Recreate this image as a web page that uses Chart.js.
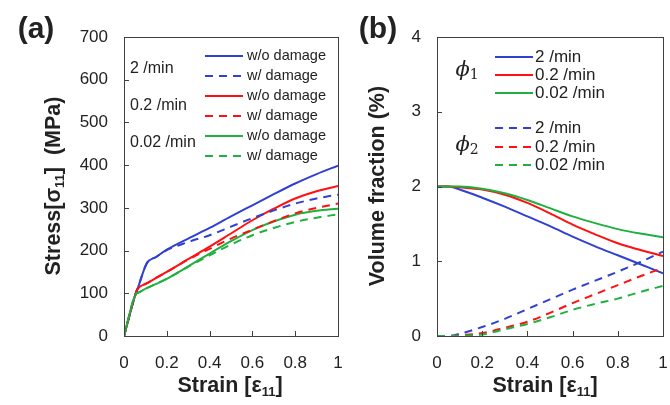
<!DOCTYPE html>
<html>
<head>
<meta charset="utf-8">
<script src="https://cdn.jsdelivr.net/npm/chart.js@4.4.1/dist/chart.umd.min.js"></script>
<style>
  html, body { margin: 0; padding: 0; background: #fff; }
  #wrap { position: relative; width: 670px; height: 405px; }
  #boxA { position: absolute; left: 0; top: 0; width: 345px; height: 405px; }
  #boxB { position: absolute; left: 340px; top: 0; width: 330px; height: 405px; }
</style>
</head>
<body>
<div id="wrap">
  <div id="boxA"><canvas id="chartA"></canvas></div>
  <div id="boxB"><canvas id="chartB"></canvas></div>
</div>
<script>
// (a) stress-strain
const strainA = [0, 0.055, 0.065, 0.106, 0.15, 0.2, 0.3, 0.4, 0.5, 0.6, 0.7, 0.8, 0.9, 1.0];
const blueSolid  = [0, 100, 113, 170, 185, 202, 228, 253, 280, 306, 332, 357, 379, 399];
const blueDash   = [0, 100, 113, 170, 185, 201, 220, 236, 256, 276, 294, 310, 322, 331];
const redSolid   = [0, 100, 111, 123, 136, 150, 180, 209, 240, 271, 298, 322, 339, 351];
const redDash    = [0, 100, 111, 123, 136, 150, 179, 204, 228, 249, 269, 287, 300, 310];
const greenSolid = [0, 98, 101, 112, 122, 134, 163, 193, 222, 248, 268, 284, 293, 298];
const greenDash  = [0, 98, 101, 112, 122, 134, 162, 189, 214, 236, 253, 267, 277, 285];

// (b) volume fractions
const strainB = [0, 0.05, 0.1, 0.2, 0.3, 0.4, 0.5, 0.6, 0.7, 0.8, 0.9, 1.0];
const phi1Blue  = [2.0, 2.0, 1.96, 1.85, 1.73, 1.60, 1.47, 1.33, 1.20, 1.08, 0.96, 0.84];
const phi1Red   = [2.0, 2.0, 1.99, 1.96, 1.89, 1.78, 1.64, 1.49, 1.36, 1.24, 1.15, 1.07];
const phi1Green = [2.0, 2.0, 2.0, 1.97, 1.91, 1.82, 1.71, 1.60, 1.51, 1.43, 1.37, 1.32];
const phi2Blue  = [0, 0, 0.03, 0.12, 0.23, 0.36, 0.49, 0.62, 0.74, 0.86, 0.99, 1.13];
const phi2Red   = [0, 0, 0.01, 0.04, 0.11, 0.19, 0.31, 0.44, 0.56, 0.68, 0.80, 0.91];
const phi2Green = [0, 0, 0.005, 0.02, 0.09, 0.16, 0.25, 0.35, 0.43, 0.50, 0.59, 0.67];

const rateLabels = ['2 /min', '0.2 /min', '0.02 /min'];

const BLUE = '#3040d0', RED = '#ff1010', GREEN = '#20b040';
const DASH = [8, 6];
const TXT = '#222';
const SANS = '"Liberation Sans", Arial, sans-serif';

function pts(xs, ys) { return xs.map((x, i) => ({ x: x, y: ys[i] })); }

function ds(xs, ys, color, dashed) {
    return {
        data: pts(xs, ys),
        borderColor: color,
        borderWidth: 2,
        borderDash: dashed ? DASH : [],
        pointRadius: 0,
        cubicInterpolationMode: 'monotone',
        fill: false
    };
}

// draw text made of pieces (for subscripts), centred on cx,cy
function drawParts(ctx, parts, cx, cy, rot) {
    ctx.save();
    ctx.translate(cx, cy);
    if (rot) ctx.rotate(rot);
    let w = 0;
    parts.forEach(p => { ctx.font = p.font; p.w = ctx.measureText(p.t).width; w += p.w; });
    let x = -w / 2;
    ctx.fillStyle = TXT;
    ctx.textBaseline = 'middle';
    ctx.textAlign = 'left';
    parts.forEach(p => {
        ctx.font = p.font;
        ctx.fillText(p.t, x, p.dy || 0);
        x += p.w;
    });
    ctx.restore();
}

function legendLine(ctx, x1, x2, y, color, dashed) {
    ctx.save();
    ctx.strokeStyle = color;
    ctx.lineWidth = 2;
    ctx.setLineDash(dashed ? DASH : []);
    ctx.beginPath();
    ctx.moveTo(x1, y);
    ctx.lineTo(x2, y);
    ctx.stroke();
    ctx.restore();
}

// frame + inward ticks
const framePlugin = {
    id: 'frame',
    afterDatasetsDraw(chart) {
        const { ctx, chartArea: a, scales } = chart;
        ctx.save();
        ctx.strokeStyle = '#404040';
        ctx.lineWidth = 1;
        ctx.strokeRect(Math.round(a.left) + 0.5, Math.round(a.top) + 0.5,
            Math.round(a.right - a.left), Math.round(a.bottom - a.top));
        ctx.beginPath();
        scales.x.ticks.forEach(t => {
            const px = Math.round(scales.x.getPixelForValue(t.value)) + 0.5;
            ctx.moveTo(px, a.bottom);
            ctx.lineTo(px, a.bottom - 5);
        });
        scales.y.ticks.forEach(t => {
            const py = Math.round(scales.y.getPixelForValue(t.value)) + 0.5;
            ctx.moveTo(a.left, py);
            ctx.lineTo(a.left + 5, py);
        });
        ctx.stroke();
        ctx.restore();
    }
};

function noPad(s) { s.paddingLeft = 0; s.paddingRight = 0; s.paddingTop = 0; s.paddingBottom = 0; }

function baseOptions(yMax, yStep, leftW) {
    return {
        responsive: true,
        maintainAspectRatio: false,
        animation: false,
        layout: { padding: { top: 37, right: 7, left: 0, bottom: 0 } },
        plugins: { legend: { display: false }, tooltip: { enabled: false } },
        scales: {
            x: {
                type: 'linear', min: 0, max: 1,
                grid: { display: false, drawTicks: false },
                border: { display: false },
                ticks: {
                    stepSize: 0.2, padding: 17, color: TXT, maxRotation: 0,
                    font: { family: SANS, size: 17 },
                    callback: v => String(+v.toFixed(1))
                },
                afterFit(s) { s.height = 69; noPad(s); }
            },
            y: {
                min: 0, max: yMax,
                grid: { display: false, drawTicks: false },
                border: { display: false },
                ticks: { stepSize: yStep, padding: 16, color: TXT, font: { family: SANS, size: 17 } },
                afterFit(s) { s.width = leftW; noPad(s); }
            }
        }
    };
}

const TITLE = 'bold 21.5px ' + SANS, TSUB = 'bold 13px ' + SANS;

// ---------- chart (a)
const textA = {
    id: 'textA',
    afterDraw(chart) {
        const ctx = chart.ctx;
        drawParts(ctx, [{ t: '(a)', font: 'bold 30px ' + SANS }], 36, 30);
        drawParts(ctx, [{ t: 'Strain [ε', font: TITLE }, { t: '11', font: TSUB, dy: 6 }, { t: ']', font: TITLE }], 230, 386);
        drawParts(ctx, [{ t: 'Stress[σ', font: TITLE }, { t: '11', font: TSUB, dy: 6 }, { t: ']  (MPa)', font: TITLE }], 54, 186, -Math.PI / 2);

        const rows = [56, 76, 96, 116, 136, 156];
        const cols = [BLUE, BLUE, RED, RED, GREEN, GREEN];
        ctx.save();
        ctx.font = '14.5px ' + SANS;
        ctx.fillStyle = TXT;
        ctx.textBaseline = 'middle';
        rows.forEach((y, i) => {
            const dashed = i % 2 === 1;
            legendLine(ctx, 205, 243, y, cols[i], dashed);
            ctx.fillText(dashed ? 'w/ damage' : 'w/o damage', 247, y);
        });
        ctx.font = '16px ' + SANS;
        rateLabels.forEach((t, i) => ctx.fillText(t, 130, 69 + i * 37));
        ctx.restore();
    }
};

new Chart(document.getElementById('chartA'), {
    type: 'line',
    data: {
        datasets: [
            ds(strainA, greenDash, GREEN, true),
            ds(strainA, redDash, RED, true),
            ds(strainA, blueDash, BLUE, true),
            ds(strainA, greenSolid, GREEN, false),
            ds(strainA, redSolid, RED, false),
            ds(strainA, blueSolid, BLUE, false)
        ]
    },
    options: baseOptions(700, 100, 124),
    plugins: [framePlugin, textA]
});

// ---------- chart (b)
const textB = {
    id: 'textB',
    afterDraw(chart) {
        const ctx = chart.ctx;
        drawParts(ctx, [{ t: '(b)', font: 'bold 30px ' + SANS }], 38, 30);
        drawParts(ctx, [{ t: 'Strain [ε', font: TITLE }, { t: '11', font: TSUB, dy: 6 }, { t: ']', font: TITLE }], 205, 386);
        drawParts(ctx, [{ t: 'Volume fraction (%)', font: TITLE }], 38, 186, -Math.PI / 2);

        const PHI = 'italic 21px "DejaVu Serif", serif', SUB = '14px "DejaVu Serif", serif';
        drawParts(ctx, [{ t: 'ϕ', font: PHI }, { t: '1', font: SUB, dy: 4 }], 127, 71);
        drawParts(ctx, [{ t: 'ϕ', font: PHI }, { t: '2', font: SUB, dy: 4 }], 127, 146);

        const rows = [57, 75, 93, 128, 147, 165];
        const cols = [BLUE, RED, GREEN, BLUE, RED, GREEN];
        ctx.save();
        ctx.font = '17px ' + SANS;
        ctx.fillStyle = TXT;
        ctx.textBaseline = 'middle';
        rows.forEach((y, i) => {
            legendLine(ctx, 155, 193, y, cols[i], i >= 3);
            ctx.fillText(rateLabels[i % 3], 195, y);
        });
        ctx.restore();
    }
};

new Chart(document.getElementById('chartB'), {
    type: 'line',
    data: {
        datasets: [
            ds(strainB, phi2Green, GREEN, true),
            ds(strainB, phi2Red, RED, true),
            ds(strainB, phi2Blue, BLUE, true),
            ds(strainB, phi1Green, GREEN, false),
            ds(strainB, phi1Red, RED, false),
            ds(strainB, phi1Blue, BLUE, false)
        ]
    },
    options: baseOptions(4, 1, 97),
    plugins: [framePlugin, textB]
});
</script>
</body>
</html>
